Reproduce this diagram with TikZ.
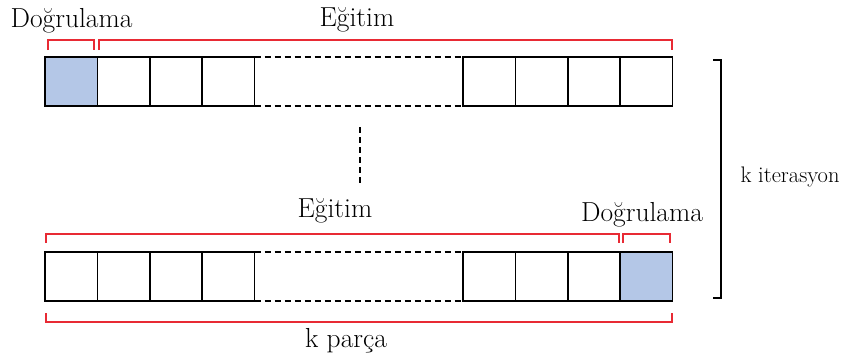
\documentclass[tikz,border=0pt]{standalone}
\usepackage{fontspec}
\definecolor{valblue}{RGB}{180,199,231}
\definecolor{bracered}{RGB}{232,42,52}
\begin{document}
\begin{tikzpicture}[x=1pt,y=-1pt,
  cell/.style={draw=black, line width=1.5pt, minimum width=52.4pt, minimum height=49pt,
               inner sep=0pt, outer sep=0pt, anchor=north west},
  valid/.style={cell, fill=valblue},
  brace/.style={draw=bracered, line width=1.3pt},
  gap/.style={draw=black, line width=1.4pt, dash pattern=on 6pt off 4pt},
  lbl/.style={font=\fontsize{27.5}{32}\selectfont, inner sep=0pt, anchor=base},
  sidelbl/.style={font=\fontsize{22.5}{26}\selectfont, inner sep=0pt, anchor=base}]
\useasboundingbox (0,0) rectangle (843,362);

% first fold: validation block on the left
\foreach \i in {0,...,3} {
  \node[cell] (a\i) at ({45+52.4*\i},57) {};
  \node[cell] (b\i) at ({463+52.4*\i},57) {};
}
\node[valid] at (a0.north west) {};
\draw[gap] (a3.north east) -- (b0.north west);
\draw[gap] (a3.south east) -- (b0.south west);

% last fold: validation block on the right
\foreach \i in {0,...,3} {
  \node[cell] (c\i) at ({45+52.4*\i},252) {};
  \node[cell] (d\i) at ({463+52.4*\i},252) {};
}
\node[valid] at (d3.north west) {};
\draw[gap] (c3.north east) -- (d0.north west);
\draw[gap] (c3.south east) -- (d0.south west);

% folds in between
\draw[gap] (360,127) -- (360,185);

% brackets over the first fold
\draw[brace] (48,50) -- (48,40) -- (94,40) -- (94,50);
\draw[brace] (99,50) -- (99,40) -- (672,40) -- (672,50);
\node[lbl] (v1) at (71.5,27) {Doğrulama};
\node[lbl] (e1) at (357,26) {Eğitim};

% brackets over the last fold
\draw[brace] (46,243) -- (46,234) -- (619,234) -- (619,243);
\draw[brace] (623,243) -- (623,234) -- (670,234) -- (670,243);
\node[lbl] (e2) at (335,217) {Eğitim};
\node[lbl] (v2) at (642,221) {Doğrulama};

% bracket under the last fold
\draw[brace] (46,313) -- (46,322) -- (672,322) -- (672,313);
\node[lbl] (kp) at (346,347) {k parça};

% iteration bracket
\draw[black, line width=1.5pt] (713,60) -- (721,60) -- (721,298) -- (713,298);
\node[sidelbl] (ki) at (790,182) {k iterasyon};
\end{tikzpicture}
\end{document}
